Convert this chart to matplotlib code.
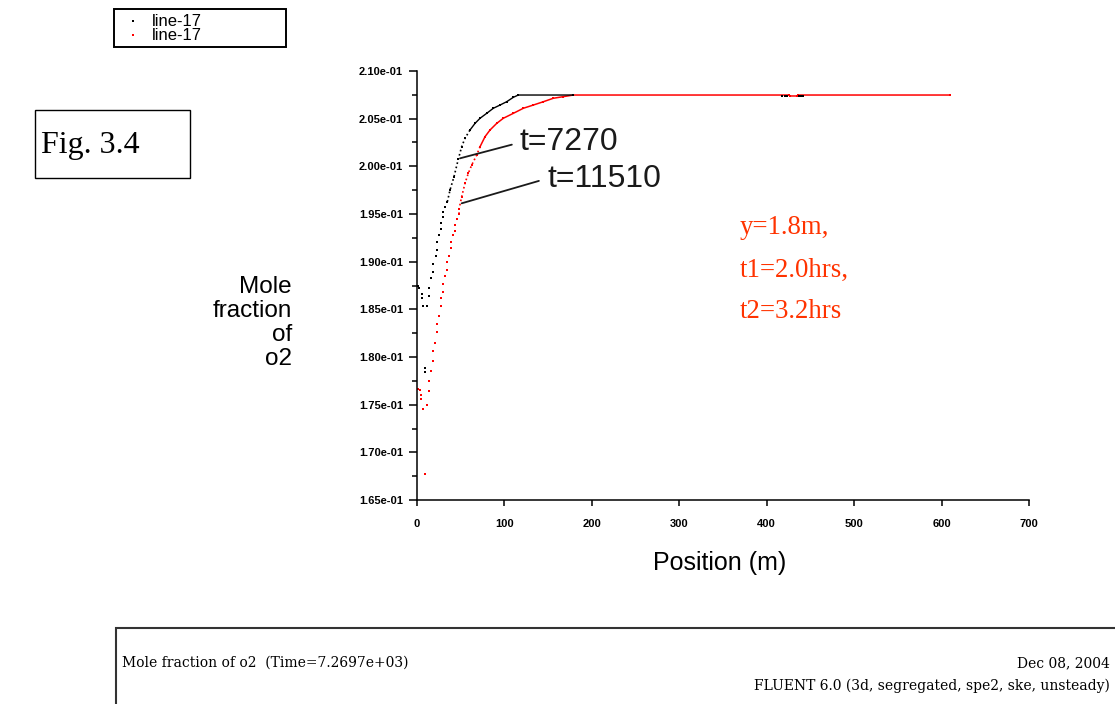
import matplotlib
matplotlib.use("Agg")
import numpy as np
import matplotlib.pyplot as plt
from matplotlib.patches import Rectangle
from matplotlib.lines import Line2D
from matplotlib.ticker import MultipleLocator, FuncFormatter

# t=7270 (black) series
black_x = [0.6, 2.3, 5.4, 5.4, 7.2, 9.5, 9.5, 11.8, 14.1, 14.1, 16.4, 18.6, 18.6,
           21.4, 23.2, 23.2, 25.5, 27.8, 27.8, 30.1, 30.1, 32.4, 34.7,
           37.8, 42.3, 47.3, 51.1, 54.9, 60.6, 66.4, 72.1, 79.7, 87.3, 95.0,
           102.6, 110.2, 115.9, 178.8]
black_y = [0.18745, 0.18721, 0.18658, 0.18616, 0.18532, 0.17884, 0.17842, 0.18532,
           0.18721, 0.18637, 0.18825, 0.18891, 0.18975,
           0.19059, 0.19122, 0.19209, 0.19276, 0.19339, 0.19402, 0.19465, 0.19524,
           0.19577, 0.19629,
           0.19752, 0.19891, 0.20077, 0.20206, 0.20294, 0.20381, 0.20451, 0.20504,
           0.20556, 0.20609, 0.20643, 0.20678, 0.20724, 0.20748, 0.20748]
black_far_x = [418, 420.5, 423, 436.5, 439, 441.5]
black_far_y = [0.20738, 0.20738, 0.20738, 0.20738, 0.20738, 0.20738]

# t=11510 (red) series
red_x = [0.6, 2.9, 4.9, 4.9, 6.9, 9.2, 11.4, 13.7, 13.7, 16.0, 18.3, 18.3, 20.6,
         22.9, 22.9, 25.2, 27.5, 27.5, 29.7, 29.7, 32.0, 34.3, 34.3, 36.6, 38.9,
         38.9, 41.2, 43.5, 43.5, 45.8, 48.1, 48.1,
         51.1, 54.9, 58.7, 62.6, 68.3, 72.1, 77.8, 83.5, 91.2, 98.7, 110.2,
         121.6, 133.1, 144.6, 155.9, 167.4, 178.8, 425.6, 426.8, 434.8, 436.0, 609.8]
red_y = [0.17669, 0.17659, 0.17601, 0.17559, 0.17454, 0.16773, 0.17496, 0.17643,
         0.17748, 0.17853, 0.17958, 0.18063, 0.18147,
         0.18262, 0.18346, 0.18430, 0.18535, 0.18619, 0.18682, 0.18766, 0.18850,
         0.18912, 0.18996, 0.19059, 0.19143,
         0.19206, 0.19280, 0.19322, 0.19385, 0.19447, 0.19500, 0.19552,
         0.19681, 0.19822, 0.19927, 0.20014, 0.20119, 0.20206, 0.20311, 0.20381,
         0.20451, 0.20504, 0.20556,
         0.20609, 0.20643, 0.20678, 0.20714, 0.20731, 0.20748, 0.20748, 0.20738,
         0.20738, 0.20748, 0.20748]

ann_labels = ["t=7270", "t=11510"]
ann_xy = [(49.2, 0.20084), (51.1, 0.19612)]
ann_text_xy = [(117.8, 0.2025), (148.7, 0.19872)]

notes = ["y=1.8m,", "t1=2.0hrs,", "t2=3.2hrs"]

W, H = 1115, 704
SANS = "Liberation Sans"
SERIF = "Liberation Serif"
DOTS = (0, (1, 1.6))


def fx(px):
    return px / W


def fy(py):
    return 1 - py / H


fig = plt.figure(figsize=(W / 100, H / 100), dpi=100)
ax = fig.add_axes([fx(417), fy(500), (1029 - 417) / W, (500 - 71) / H])

bx = np.array(black_x)
by = np.array(black_y)
rx = np.array(red_x)
ry = np.array(red_y)

# red: loose dots, then dense dots, then a solid run
ax.plot(rx, ry, ls="none", marker="s", ms=1.8, mew=0, color="red")
m = (rx >= 48) & (rx <= 73)
ax.plot(rx[m], ry[m], color="red", lw=1.2, ls=DOTS)
m = rx >= 72
ax.plot(rx[m], ry[m], color="red", lw=1.1)

# black
ax.plot(bx, by, ls="none", marker="s", ms=1.8, mew=0, color="black")
m = (bx >= 34) & (bx <= 61)
ax.plot(bx[m], by[m], color="black", lw=1.2, ls=DOTS)
m = bx >= 60
ax.plot(bx[m], by[m], color="black", lw=1.0)
ax.plot(black_far_x, black_far_y, ls="none", marker="s", ms=1.9, mew=0, color="black")

for lab, xy, txy in zip(ann_labels, ann_xy, ann_text_xy):
    ax.annotate(lab, xy=xy, xytext=txy, ha="left", va="center", fontsize=23,
                family=SANS, color="#1a1a1a",
                arrowprops=dict(arrowstyle="-", color="#1a1a1a", lw=1.3,
                                relpos=(0, 0.5), shrinkA=4, shrinkB=0))

ax.set_xlim(0, 700)
ax.set_ylim(0.165, 0.210)
ax.xaxis.set_major_locator(MultipleLocator(100))
ax.yaxis.set_major_locator(MultipleLocator(0.005))
ax.yaxis.set_minor_locator(MultipleLocator(0.0025))
ax.yaxis.set_major_formatter(FuncFormatter(lambda v, p: f"{v:.2e}"))
ax.xaxis.set_major_formatter(FuncFormatter(lambda v, p: f"{v:.0f}"))

for s in ["top", "right"]:
    ax.spines[s].set_visible(False)
for s in ["left", "bottom"]:
    ax.spines[s].set_linewidth(1.1)

ax.tick_params(axis="y", which="major", direction="out", length=6, width=1.1, pad=4)
ax.tick_params(axis="y", which="minor", direction="out", length=3.5, width=1.1)
ax.tick_params(axis="x", which="major", direction="out", length=4, width=1.1, pad=10)
for t in ax.get_xticklabels() + ax.get_yticklabels():
    t.set_family(SANS)
    t.set_fontsize(8)
    t.set_fontweight("bold")

ax.set_ylabel("Mole\nfraction\nof\no2", rotation=0, ha="right", va="center",
              multialignment="right", fontsize=17.5, linespacing=1.12, family=SANS)
ax.yaxis.set_label_coords((292 - 417) / 612, (500 - 323) / 429)
ax.set_xlabel("Position (m)", fontsize=18, family=SANS, va="center")
ax.xaxis.set_label_coords((720 - 417) / 612, (500 - 563) / 429)

# legend box
fig.add_artist(Rectangle((fx(114), fy(47)), (286 - 114) / W, (47 - 9) / H,
                         transform=fig.transFigure, fill=False, lw=1.4, ec="black"))
for py, col in [(21, "black"), (35, "red")]:
    fig.add_artist(Line2D([fx(133)], [fy(py)], marker="s", ms=1.7, mew=0, color=col,
                          transform=fig.transFigure))
    fig.text(fx(152), fy(py), "line-17", fontsize=12, va="center", family=SANS)

# Fig. 3.4 box
fig.add_artist(Rectangle((fx(35), fy(178)), (190 - 35) / W, (178 - 110) / H,
                         transform=fig.transFigure, fill=False, lw=1.0, ec="black"))
fig.text(fx(41), fy(145), "Fig. 3.4", fontsize=23, va="center", family=SERIF)

# red notes
for py, s in zip([228, 270, 311], notes):
    fig.text(fx(740), fy(py), s, fontsize=19.3, va="center", family=SERIF, color="#ff3300")

# bottom title panel
fig.add_artist(Rectangle((fx(116), fy(720)), (1140 - 116) / W, (720 - 628) / H,
                         transform=fig.transFigure, fill=False, lw=1.5, ec="#333333"))
fig.text(fx(122), fy(663), "Mole fraction of o2  (Time=7.2697e+03)", fontsize=10,
         va="center", family="DejaVu Serif")
fig.text(fx(1110), fy(663), "Dec 08, 2004", fontsize=10, va="center", ha="right",
         family="DejaVu Serif")
fig.text(fx(1110), fy(686), "FLUENT 6.0 (3d, segregated, spe2, ske, unsteady)",
         fontsize=10, va="center", ha="right", family="DejaVu Serif")

fig.savefig("out.png", dpi=100)
